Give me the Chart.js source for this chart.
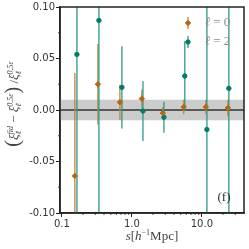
<!DOCTYPE html>
<html>
<head>
<meta charset="utf-8">
<script src="https://cdn.jsdelivr.net/npm/chart.js@4"></script>
<style>
  body { margin: 0; background: #fff; }
  #wrap { width: 249px; height: 249px; }
</style>
</head>
<body>
<div id="wrap"><canvas id="c" width="249" height="249"></canvas></div>
<script>
// values
const s0 = [0.153, 0.327, 0.674, 1.39, 2.77, 5.5, 11.4, 23.5];      // ell = 0
const xi0 = [-0.064, 0.025, 0.0075, 0.011, -0.003, 0.003, 0.003, 0.002];
const err0 = [0.100, 0.039, 0.017, 0.009, 0.006, 0.007, 0.007, 0.008];

const s2 = [0.164, 0.338, 0.72, 1.44, 2.87, 5.7, 11.8, 24.3];       // ell = 2
const xi2 = [0.054, 0.087, 0.022, -0.001, -0.007, 0.033, -0.019, 0.021];
const err2 = [0.25, 0.25, 0.040, 0.029, 0.015, 0.034, 0.25, 0.25];

const xTicks = [0.1, 1, 10];
const xMinor = [0.2, 0.3, 0.4, 0.5, 0.6, 0.7, 0.8, 0.9, 2, 3, 4, 5, 6, 7, 8, 9, 20, 30];
const yTicks = [-0.10, -0.05, 0.00, 0.05, 0.10];
const yMinor = [-0.075, -0.025, 0.025, 0.075];
const band = [-0.01, 0.01];

const ORANGE = "#b8660f", ORANGE_BAR = "rgba(196,130,50,0.85)";
const TEAL = "#037a6d", TEAL_BAR = "rgba(40,150,135,0.85)";

const serif = "'Liberation Serif', 'DejaVu Serif', serif";

// gray band, zero line, error bars, frame, texts
const extras = {
  id: "extras",
  beforeDatasetsDraw(chart) {
    const { ctx, chartArea: a, scales: { x, y } } = chart;
    ctx.save();
    ctx.beginPath();
    ctx.rect(a.left, a.top, a.right - a.left, a.bottom - a.top);
    ctx.clip();
    ctx.fillStyle = "#cccccc";
    ctx.fillRect(a.left, y.getPixelForValue(band[1]), a.right - a.left,
      y.getPixelForValue(band[0]) - y.getPixelForValue(band[1]));
    ctx.strokeStyle = "#333";
    ctx.lineWidth = 1.5;
    ctx.beginPath();
    ctx.moveTo(a.left, y.getPixelForValue(0));
    ctx.lineTo(a.right, y.getPixelForValue(0));
    ctx.stroke();

    const bars = (sv, v, e, col) => {
      ctx.strokeStyle = col;
      ctx.lineWidth = 1.5;
      sv.forEach((s, i) => {
        const px = x.getPixelForValue(s);
        ctx.beginPath();
        ctx.moveTo(px, y.getPixelForValue(v[i] + e[i]));
        ctx.lineTo(px, y.getPixelForValue(v[i] - e[i]));
        ctx.stroke();
      });
    };
    bars(s0, xi0, err0, ORANGE_BAR);
    bars(s2, xi2, err2, TEAL_BAR);
    ctx.restore();
  },
  afterDraw(chart) {
    const { ctx, chartArea: a, scales: { x, y } } = chart;
    ctx.save();
    // minor ticks
    ctx.strokeStyle = "#222";
    ctx.lineWidth = 0.8;
    xMinor.forEach(v => {
      const px = x.getPixelForValue(v);
      ctx.beginPath(); ctx.moveTo(px, a.bottom); ctx.lineTo(px, a.bottom + 2); ctx.stroke();
    });
    yMinor.forEach(v => {
      const py = y.getPixelForValue(v);
      ctx.beginPath(); ctx.moveTo(a.left, py); ctx.lineTo(a.left - 2, py); ctx.stroke();
    });
    // frame
    ctx.strokeStyle = "#222";
    ctx.lineWidth = 1.5;
    ctx.strokeRect(a.left, a.top, a.right - a.left, a.bottom - a.top);

    // legend
    const leg = [[ORANGE, ORANGE_BAR, "rectRot", "0", 23], [TEAL, TEAL_BAR, "circle", "2", 42]];
    leg.forEach(([c, cb, st, n, ly]) => {
      ctx.strokeStyle = cb; ctx.lineWidth = 1.5;
      ctx.beginPath(); ctx.moveTo(188, ly - 6); ctx.lineTo(188, ly + 6); ctx.stroke();
      ctx.fillStyle = c; ctx.strokeStyle = c; ctx.lineWidth = 1;
      Chart.helpers.drawPoint(ctx, { pointStyle: st, radius: st === "circle" ? 2.2 : 2.7, borderWidth: 1 }, 188, ly);
      ctx.fillStyle = "#8c8c8c";
      ctx.textBaseline = "middle";
      ctx.textAlign = "left";
      ctx.font = "italic 13px " + serif;
      ctx.fillText("ℓ", 205, ly);
      ctx.font = "13px " + serif;
      ctx.fillText(" = " + n, 210, ly);
    });

    // panel tag
    ctx.fillStyle = "#333";
    ctx.font = "13px " + serif;
    ctx.textAlign = "center";
    ctx.fillText("(f)", 224, 198);

    // x title
    const xt = [["s", 13, 0, true], ["[", 13, 0, false], ["h", 13, 0, true], ["−1", 8, -5, false], ["Mpc]", 13, 0, false]];
    drawRich(ctx, xt, 152, 240, 0, "#444");

    // y title (rotated)
    const yt = [
      ["(", 20, 1, false],
      ["ξ", 13, 0, true], ["fid", 8, -5, true, -7], ["ℓ", 8, 3, true, 0],
      [" − ", 13, 0, false],
      ["ξ", 13, 0, true], ["0.5ε", 8, -5, true, -7], ["ℓ", 8, 3, true, 0],
      [")", 20, 1, false],
      [" /", 13, 0, false],
      ["ξ", 13, 0, true], ["0.5ε", 8, -5, true, -7], ["ℓ", 8, 3, true, 0],
    ];
    drawRich(ctx, yt, 18, 104, -Math.PI / 2, "#444");
    ctx.restore();
  }
};

// draws text pieces with sub/superscripts; piece = [text, size, dy, italic, backShift]
function drawRich(ctx, pieces, cx, cy, rot, color) {
  const font = p => (p[3] ? "italic " : "") + p[1] + "px " + serif;
  let w = 0;
  const xs = [];
  let supEnd = 0;
  pieces.forEach(p => {
    ctx.font = font(p);
    if (p[4] !== undefined && p[4] < 0) {
      // superscript sits right after the base glyph
      xs.push(w); supEnd = w + ctx.measureText(p[0]).width;
    } else if (p[4] === 0) {
      // subscript below the superscript
      xs.push(xs[xs.length - 1]);
      w = Math.max(supEnd, xs[xs.length - 1] + ctx.measureText(p[0]).width);
    } else {
      xs.push(w); w += ctx.measureText(p[0]).width;
    }
  });
  ctx.save();
  ctx.translate(cx, cy);
  ctx.rotate(rot);
  ctx.fillStyle = color;
  ctx.textAlign = "left";
  ctx.textBaseline = "alphabetic";
  pieces.forEach((p, i) => {
    ctx.font = font(p);
    ctx.fillText(p[0], xs[i] - w / 2, p[2]);
  });
  ctx.restore();
}

new Chart(document.getElementById("c"), {
  type: "scatter",
  data: {
    datasets: [
      {
        label: "ℓ = 0",
        data: s0.map((s, i) => ({ x: s, y: xi0[i] })),
        backgroundColor: ORANGE, borderColor: ORANGE,
        pointStyle: "rectRot", pointRadius: 2.7, borderWidth: 1
      },
      {
        label: "ℓ = 2",
        data: s2.map((s, i) => ({ x: s, y: xi2[i] })),
        backgroundColor: TEAL, borderColor: TEAL,
        pointStyle: "circle", pointRadius: 2.2, borderWidth: 1
      }
    ]
  },
  options: {
    responsive: false,
    animation: false,
    layout: { padding: { left: 0, top: 6, right: 5, bottom: 0 }, autoPadding: false },
    plugins: { legend: { display: false }, tooltip: { enabled: false } },
    scales: {
      x: {
        type: "logarithmic",
        min: 0.094, max: 40,
        afterBuildTicks: s => { s.ticks = xTicks.map(v => ({ value: v })); },
        afterFit: s => { s.height = 36; },
        grid: { drawOnChartArea: false, tickLength: 4, tickColor: "#222" },
        border: { color: "#222", width: 1.5 },
        ticks: {
          color: "#333", padding: 1, maxRotation: 0,
          font: { family: "'DejaVu Sans'", size: 10 },
          callback: v => Number(v).toFixed(1)
        }
      },
      y: {
        min: -0.1, max: 0.1,
        afterBuildTicks: s => { s.ticks = yTicks.map(v => ({ value: v })); },
        afterFit: s => { s.width = 60; },
        grid: { drawOnChartArea: false, tickLength: 4, tickColor: "#222" },
        border: { color: "#222", width: 1.5 },
        ticks: {
          color: "#333", padding: 1,
          font: { family: "'DejaVu Sans'", size: 10 },
          callback: v => (Math.abs(v) < 1e-9 ? 0 : v).toFixed(2)
        }
      }
    }
  },
  plugins: [extras]
});
</script>
</body>
</html>
